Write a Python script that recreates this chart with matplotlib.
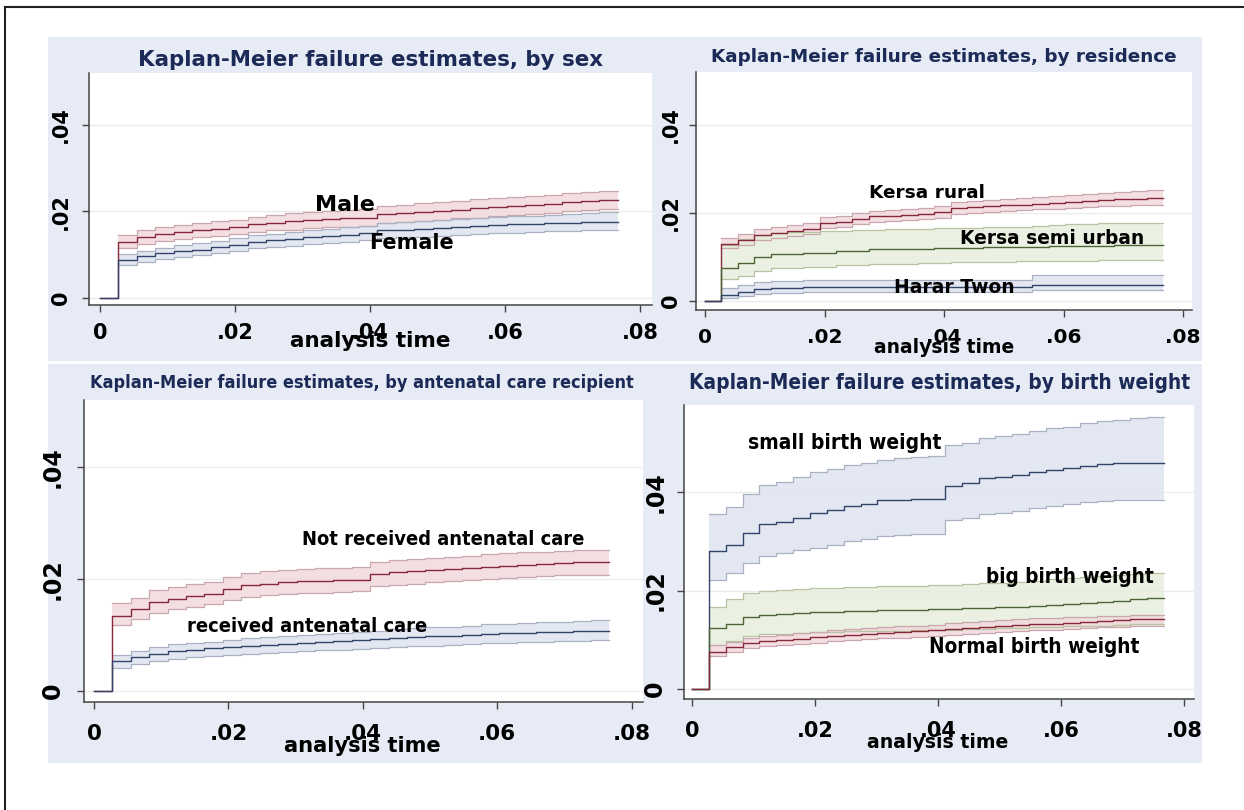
import numpy as np
import matplotlib.pyplot as plt
from matplotlib.patches import Rectangle

plt.rcParams['font.family'] = ['DejaVu Sans']

W, H = 1244, 810

# analysis time: event days of the neonatal period (in years)
days = np.array([1, 2, 3, 4, 5, 6, 7, 8, 9, 10, 11, 12, 13, 14, 15, 16, 17, 18, 19, 20,
                 21, 22, 23, 24, 25, 26, 27, 28])
t = days / 365.0

xticks = [0, 0.02, 0.04, 0.06, 0.08]
xtick_labels = ["0", ".02", ".04", ".06", ".08"]
yticks = [0, 0.02, 0.04]
ytick_labels = ["0", ".02", ".04"]

# ---- by sex
male_m = [.0130, .0140, .0148, .0152, .0156, .0160, .0164, .0170, .0174, .0177, .0180, .0182, .0184, .0186,
          .0193, .0196, .0199, .0201, .0204, .0207, .0210, .0213, .0215, .0218, .0222, .0224, .0226]
male_lo = [.0116, .0125, .0132, .0136, .0140, .0143, .0147, .0152, .0156, .0158, .0161, .0163, .0165, .0167,
           .0173, .0176, .0179, .0181, .0184, .0186, .0189, .0192, .0194, .0197, .0201, .0203, .0205]
male_hi = [.0146, .0157, .0165, .0169, .0173, .0177, .0181, .0188, .0192, .0196, .0199, .0201, .0204, .0206,
           .0213, .0216, .0219, .0222, .0225, .0228, .0231, .0234, .0236, .0239, .0243, .0245, .0247]
female_m = [.0088, .0096, .0103, .0108, .0112, .0118, .0123, .0130, .0133, .0137, .0140, .0143, .0146, .0150,
            .0156, .0158, .0160, .0162, .0164, .0166, .0168, .0170, .0171, .0173, .0174, .0175, .0176]
female_lo = [.0077, .0084, .0090, .0095, .0099, .0104, .0109, .0115, .0118, .0121, .0124, .0127, .0130, .0133,
             .0138, .0140, .0142, .0144, .0146, .0148, .0150, .0151, .0152, .0154, .0155, .0156, .0157]
female_hi = [.0101, .0109, .0116, .0122, .0126, .0132, .0138, .0145, .0149, .0153, .0156, .0159, .0163, .0167,
             .0173, .0176, .0178, .0180, .0183, .0185, .0187, .0189, .0190, .0192, .0194, .0196, .0198]

# ---- by residence
rural_m = [.0129, .0139, .0150, .0155, .0159, .0163, .0177, .0180, .0186, .0192, .0194, .0196, .0198, .0201,
           .0211, .0213, .0215, .0217, .0219, .0221, .0223, .0225, .0227, .0229, .0231, .0232, .0233]
rural_lo = [.0120, .0128, .0139, .0144, .0148, .0152, .0165, .0168, .0174, .0180, .0182, .0184, .0186, .0189,
            .0198, .0200, .0202, .0204, .0206, .0208, .0210, .0211, .0213, .0215, .0216, .0217, .0218]
rural_hi = [.0142, .0152, .0163, .0168, .0172, .0176, .0190, .0193, .0199, .0205, .0207, .0210, .0212, .0215,
            .0225, .0228, .0230, .0232, .0234, .0237, .0239, .0241, .0243, .0245, .0248, .0250, .0252]
semi_m = [.0076, .0086, .0099, .0106, .0107, .0108, .0109, .0113, .0114, .0117, .0118, .0118, .0119, .0120,
          .0121, .0121, .0122, .0122, .0123, .0123, .0124, .0124, .0125, .0125, .0126, .0126, .0126]
semi_lo = [.0050, .0057, .0068, .0075, .0076, .0077, .0078, .0081, .0082, .0084, .0085, .0085, .0086, .0087,
           .0088, .0088, .0089, .0089, .0090, .0090, .0091, .0091, .0091, .0092, .0092, .0092, .0092]
semi_hi = [.0128, .0140, .0150, .0155, .0156, .0157, .0158, .0160, .0161, .0162, .0163, .0163, .0164, .0165,
           .0166, .0166, .0167, .0167, .0168, .0170, .0172, .0174, .0175, .0176, .0177, .0177, .0177]
harar_m = [.0014, .0021, .0027, .0029, .0030, .0031, .0032, .0032, .0032, .0032, .0032, .0032, .0032, .0032,
           .0032, .0032, .0032, .0032, .0032, .0037, .0037, .0037, .0037, .0037, .0037, .0037, .0037]
harar_lo = [.0006, .0011, .0016, .0018, .0019, .0020, .0020, .0020, .0020, .0020, .0020, .0020, .0020, .0020,
            .0020, .0020, .0020, .0020, .0020, .0025, .0025, .0025, .0025, .0025, .0025, .0025, .0025]
harar_hi = [.0029, .0037, .0043, .0045, .0046, .0047, .0048, .0048, .0048, .0048, .0048, .0048, .0048, .0048,
            .0048, .0048, .0048, .0048, .0048, .0058, .0058, .0058, .0058, .0058, .0058, .0058, .0058]

# ---- by antenatal care
notrec_m = [.0134, .0146, .0159, .0165, .0170, .0174, .0182, .0189, .0192, .0194, .0196, .0197, .0198, .0199,
            .0209, .0212, .0214, .0216, .0218, .0220, .0222, .0224, .0226, .0227, .0229, .0230, .0230]
notrec_lo = [.0118, .0128, .0140, .0146, .0151, .0155, .0162, .0168, .0171, .0173, .0175, .0176, .0177, .0178,
             .0188, .0190, .0192, .0194, .0196, .0198, .0200, .0202, .0204, .0205, .0207, .0208, .0208]
notrec_hi = [.0157, .0167, .0180, .0186, .0191, .0195, .0204, .0211, .0214, .0216, .0218, .0219, .0220, .0221,
             .0231, .0234, .0236, .0238, .0240, .0242, .0244, .0246, .0248, .0249, .0251, .0252, .0252]
rec_m = [.0054, .0061, .0067, .0072, .0074, .0076, .0079, .0081, .0083, .0084, .0086, .0088, .0090, .0091,
         .0093, .0095, .0096, .0098, .0099, .0101, .0102, .0103, .0104, .0105, .0106, .0107, .0108]
rec_lo = [.0041, .0048, .0053, .0058, .0060, .0062, .0064, .0066, .0068, .0069, .0071, .0073, .0074, .0075,
          .0077, .0079, .0080, .0081, .0082, .0084, .0085, .0086, .0087, .0088, .0089, .0090, .0092]
rec_hi = [.0064, .0072, .0078, .0084, .0086, .0088, .0091, .0094, .0096, .0098, .0100, .0102, .0104, .0106,
          .0108, .0110, .0112, .0114, .0115, .0117, .0119, .0120, .0121, .0123, .0124, .0126, .0127]

# ---- by birth weight
small_m = [.0280, .0292, .0317, .0335, .0340, .0348, .0357, .0363, .0372, .0376, .0383, .0385, .0387, .0387,
           .0413, .0419, .0428, .0431, .0434, .0440, .0445, .0449, .0454, .0457, .0460, .0460, .0460]
small_lo = [.0221, .0235, .0255, .0271, .0277, .0283, .0287, .0293, .0300, .0304, .0310, .0312, .0314, .0314,
            .0343, .0348, .0355, .0358, .0362, .0367, .0372, .0375, .0379, .0382, .0385, .0385, .0385]
small_hi = [.0355, .0369, .0397, .0414, .0420, .0430, .0441, .0446, .0455, .0460, .0465, .0470, .0472, .0474,
            .0495, .0500, .0510, .0514, .0519, .0525, .0530, .0533, .0540, .0544, .0547, .0550, .0553]
big_m = [.0123, .0133, .0147, .0150, .0152, .0154, .0156, .0157, .0158, .0159, .0160, .0160, .0161, .0162,
         .0163, .0164, .0165, .0166, .0167, .0168, .0170, .0172, .0175, .0177, .0179, .0182, .0184]
big_lo = [.0089, .0097, .0108, .0111, .0112, .0114, .0115, .0116, .0117, .0117, .0118, .0118, .0119, .0120,
          .0120, .0121, .0122, .0123, .0124, .0125, .0126, .0127, .0128, .0129, .0130, .0132, .0133]
big_hi = [.0167, .0182, .0196, .0199, .0201, .0203, .0205, .0206, .0207, .0208, .0209, .0209, .0210, .0211,
          .0212, .0213, .0215, .0216, .0218, .0220, .0223, .0226, .0228, .0230, .0232, .0234, .0236]
normal_m = [.0076, .0086, .0093, .0097, .0100, .0102, .0105, .0108, .0110, .0112, .0114, .0116, .0118, .0120,
            .0122, .0124, .0126, .0128, .0130, .0132, .0133, .0135, .0137, .0139, .0140, .0142, .0143]
normal_lo = [.0068, .0076, .0083, .0087, .0089, .0091, .0094, .0097, .0099, .0101, .0103, .0104, .0106, .0108,
             .0110, .0112, .0114, .0116, .0117, .0119, .0120, .0122, .0124, .0125, .0126, .0127, .0128]
normal_hi = [.0089, .0096, .0103, .0107, .0110, .0113, .0116, .0119, .0121, .0123, .0125, .0127, .0129, .0131,
             .0134, .0136, .0138, .0140, .0142, .0144, .0145, .0146, .0147, .0148, .0149, .0150, .0150]

RED = ("#86283a", "#f1d7db", "#c9a7ad")
BLUE = ("#33446a", "#dce2ee", "#a9b1c3")
GREEN = ("#4c6436", "#e6eedb", "#b7c3a2")

TITLE_COL = "#1b2a56"
BG = "#e7ebf5"

fig = plt.figure(figsize=(W / 100, H / 100), dpi=100)
fig.patch.set_facecolor("white")
renderer = fig.canvas.get_renderer()

# background layer in pixel coordinates
bg = fig.add_axes([0, 0, 1, 1], zorder=-10)
bg.set_xlim(0, W)
bg.set_ylim(H, 0)
bg.axis("off")
bg.add_patch(Rectangle((48, 37), 1202 - 48, 763 - 37, facecolor=BG, edgecolor="none"))
bg.add_patch(Rectangle((48, 361), 1202 - 48, 3, facecolor="white", edgecolor="none"))
bg.plot([5, W], [7, 7], color="#222222", lw=1.5)
bg.plot([5, 5], [7, H], color="#222222", lw=1.5)


def fit(txt, width):
    # scale the font so that the text spans `width` pixels
    w = txt.get_window_extent(renderer).width
    txt.set_fontsize(txt.get_fontsize() * width / w)
    return txt


def px_axes(l, r, t_, b):
    return fig.add_axes([l / W, 1 - b / H, (r - l) / W, (b - t_) / H])


def km(ax, m, lo, hi, col):
    line, fill, edge = col
    lo_e = np.append(lo, lo[-1])
    hi_e = np.append(hi, hi[-1])
    m_e = np.append(m, m[-1])
    ax.fill_between(t, lo_e, hi_e, step="post", color=fill, lw=0, alpha=0.8, zorder=2)
    ax.step(t, lo_e, where="post", color=edge, lw=0.9, zorder=3)
    ax.step(t, hi_e, where="post", color=edge, lw=0.9, zorder=3)
    ax.step(np.r_[0, t], np.r_[0, m_e], where="post", color=line, lw=1.0, zorder=4)


def label(ax, x, y, s, width, stretch="normal"):
    txt = ax.text(x, y, s, ha="center", va="center", fontsize=14, fontweight="bold",
                  color="black", zorder=5, fontstretch=stretch)
    fit(txt, width)


def panel(geom, xlim, ylim, title, title_xy, title_w, stretch, ytick_fs, xtick_fs,
          ypad, xpad, xlab_y, xlab_w):
    ax = px_axes(*geom)
    ax.set_xlim(*xlim)
    ax.set_ylim(*ylim)
    ax.set_facecolor("white")
    for s in ["top", "right"]:
        ax.spines[s].set_visible(False)
    for s in ["left", "bottom"]:
        ax.spines[s].set_color("#444444")
        ax.spines[s].set_linewidth(1.1)
    ax.set_xticks(xticks)
    ax.set_xticklabels(xtick_labels, fontsize=xtick_fs, fontweight="bold")
    ax.set_yticks(yticks)
    ax.set_yticklabels(ytick_labels, fontsize=ytick_fs, fontweight="bold", rotation=90, va="center")
    ax.tick_params(axis="both", direction="out", length=5, width=1, color="#444444")
    ax.tick_params(axis="y", pad=ypad)
    ax.tick_params(axis="x", pad=xpad)
    for y0 in yticks:
        ax.axhline(y0, color="#ececec", lw=1, zorder=1)
    ttl = fig.text(title_xy[0] / W, 1 - title_xy[1] / H, title, ha="center", va="center",
                   fontsize=14, fontweight="bold", color=TITLE_COL, fontstretch=stretch)
    fit(ttl, title_w)
    x_c = ax.transData.transform((0.04, 0))[0] / W
    xl = fig.text(x_c, 1 - xlab_y / H, "analysis time", ha="center", va="center",
                  fontsize=14, fontweight="bold", color="black")
    fit(xl, xlab_w)
    return ax


# top-left: by sex
ax1 = panel((89, 652, 73, 305), (-0.00163, 0.0818), (-0.00162, 0.0520),
            "Kaplan-Meier failure estimates, by sex", (370, 60), 467, "normal",
            15, 15, 8, 8, 341, 161)
km(ax1, male_m, male_lo, male_hi, RED)
km(ax1, female_m, female_lo, female_hi, BLUE)
label(ax1, 0.0363, 0.0215, "Male", 60)
label(ax1, 0.0462, 0.0127, "Female", 85)

# top-right: by residence
ax2 = panel((696, 1192, 72, 310), (-0.00151, 0.0815), (-0.00205, 0.0520),
            "Kaplan-Meier failure estimates, by residence", (944, 57), 468, "normal",
            15, 14.5, 6, 8, 347, 140)
km(ax2, rural_m, rural_lo, rural_hi, RED)
km(ax2, semi_m, semi_lo, semi_hi, GREEN)
km(ax2, harar_m, harar_lo, harar_hi, BLUE)
label(ax2, 0.0372, 0.0245, "Kersa rural", 116)
label(ax2, 0.0581, 0.0143, "Kersa semi urban", 184)
label(ax2, 0.0417, 0.0030, "Harar Twon", 121)

# bottom-left: by antenatal care
ax3 = panel((84, 643, 400, 702), (-0.00149, 0.0817), (-0.00196, 0.0520),
            "Kaplan-Meier failure estimates, by antenatal care recipient", (362, 383), 547, "condensed",
            17, 15.5, 9, 11, 746, 157)
km(ax3, notrec_m, notrec_lo, notrec_hi, RED)
km(ax3, rec_m, rec_lo, rec_hi, BLUE)
label(ax3, 0.0519, 0.0270, "Not received antenatal care", 284, "condensed")
label(ax3, 0.0317, 0.0116, "received antenatal care", 242, "condensed")

# bottom-right: by birth weight
ax4 = panel((684, 1194, 405, 699), (-0.0013, 0.0816), (-0.00203, 0.0577),
            "Kaplan-Meier failure estimates, by birth weight", (940, 383), 504, "condensed",
            17, 15, 7, 11, 743, 141)
km(ax4, small_m, small_lo, small_hi, BLUE)
km(ax4, big_m, big_lo, big_hi, GREEN)
km(ax4, normal_m, normal_lo, normal_hi, RED)
label(ax4, 0.0249, 0.0499, "small birth weight", 195, "condensed")
label(ax4, 0.0615, 0.0227, "big birth weight", 170, "condensed")
label(ax4, 0.0556, 0.0085, "Normal birth weight", 212, "condensed")

fig.savefig("out.png", dpi=100)
